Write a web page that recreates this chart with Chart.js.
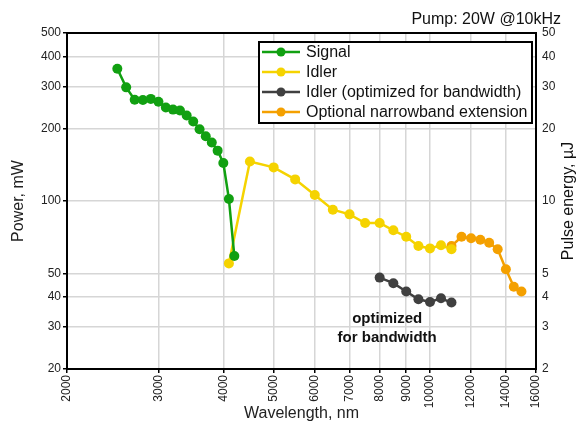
<!DOCTYPE html>
<html lang="en">
<head>
    <meta charset="UTF-8">
    <title>Pump: 20W @10kHz</title>
    <script src="https://cdn.jsdelivr.net/npm/chart.js"></script>
    <style>
        body { margin: 0; background: #fff; }
        #wrap { width: 579px; height: 430px; }
    </style>
</head>
<body>
    <div id="wrap"><canvas id="powerChart" width="579" height="430"></canvas></div>

    <script>
        // Values (wavelength in nm, power in mW)
        const signalNm = [2500, 2600, 2700, 2800, 2900, 3000, 3100, 3200, 3300, 3400, 3500, 3600, 3700, 3800, 3900, 4000, 4100, 4200];
        const signalMw = [355, 297, 264, 263, 266, 259, 245, 240, 238, 227, 214, 199, 186, 175, 162, 144, 102, 59];

        const idlerNm = [4100, 4500, 5000, 5500, 6000, 6500, 7000, 7500, 8000, 8500, 9000, 9500, 10000, 10500, 11000];
        const idlerMw = [55, 146, 138, 123, 106, 92, 88, 81, 81, 75.5, 71, 65, 63.5, 65.4, 63];

        const bandwidthNm = [8000, 8500, 9000, 9500, 10000, 10500, 11000];
        const bandwidthMw = [48, 45.5, 42, 39, 38, 39.4, 37.8];

        const narrowNm = [11000, 11500, 12000, 12500, 13000, 13500, 14000, 14500, 15000];
        const narrowMw = [65, 71, 70, 69, 67, 63, 52, 44, 42];

        const seriesNames = ['Signal', 'Idler', 'Idler (optimized for bandwidth)', 'Optional narrowband extension'];
        const seriesColors = ['#11a011', '#f5d300', '#404040', '#f4a000'];

        const xTicks = [2000, 3000, 4000, 5000, 6000, 7000, 8000, 9000, 10000, 12000, 14000, 16000];
        const powerTicks = [20, 30, 40, 50, 100, 200, 300, 400, 500];
        const energyTicks = [2, 3, 4, 5, 10, 20, 30, 40, 50];

        const toPoints = (xs, ys) => xs.map((x, i) => ({ x: x, y: ys[i] }));

        const font = 'Liberation Sans, Arial, sans-serif';
        Chart.defaults.font.family = font;
        Chart.defaults.color = '#222';

        function makeSet(i, xs, ys) {
            return {
                label: seriesNames[i],
                data: toPoints(xs, ys),
                borderColor: seriesColors[i],
                backgroundColor: seriesColors[i],
                borderWidth: 2.5,
                pointRadius: 5,
                pointHoverRadius: 5,
                pointBorderWidth: 0,
                tension: 0
            };
        }

        // legend box, frame, right axis title and the text notes
        const overlay = {
            id: 'overlay',
            afterDraw(chart) {
                const { ctx, chartArea: a, scales } = chart;
                ctx.save();

                ctx.strokeStyle = '#000';
                ctx.lineWidth = 2;
                ctx.strokeRect(a.left, a.top, a.right - a.left, a.bottom - a.top);

                // legend
                const lx = 259, ly = 42, lw = 273, lh = 81;
                ctx.fillStyle = '#fff';
                ctx.fillRect(lx, ly, lw, lh);
                ctx.strokeRect(lx, ly, lw, lh);
                ctx.font = '16px ' + font;
                ctx.textBaseline = 'middle';
                ctx.textAlign = 'left';
                seriesNames.forEach((name, i) => {
                    const y = ly + 10 + i * 20;
                    ctx.strokeStyle = seriesColors[i];
                    ctx.lineWidth = 2.5;
                    ctx.beginPath();
                    ctx.moveTo(lx + 3, y);
                    ctx.lineTo(lx + 41, y);
                    ctx.stroke();
                    ctx.fillStyle = seriesColors[i];
                    ctx.beginPath();
                    ctx.arc(lx + 22, y, 4.5, 0, Math.PI * 2);
                    ctx.fill();
                    ctx.fillStyle = '#111';
                    ctx.fillText(name, lx + 47, y + 1);
                });

                // pump note
                ctx.font = '16px ' + font;
                ctx.textAlign = 'right';
                ctx.textBaseline = 'alphabetic';
                ctx.fillStyle = '#111';
                ctx.fillText('Pump: 20W @10kHz', 561, 24);

                // annotation under the bandwidth-optimized series
                const ax = scales.x.getPixelForValue(8270);
                ctx.font = 'bold 15px ' + font;
                ctx.textAlign = 'center';
                ctx.textBaseline = 'middle';
                ctx.fillText('optimized', ax, scales.y.getPixelForValue(32.2));
                ctx.fillText('for bandwidth', ax, scales.y.getPixelForValue(26.9));

                // right axis title, reading bottom to top
                ctx.translate(569, (a.top + a.bottom) / 2);
                ctx.rotate(-Math.PI / 2);
                ctx.font = '16px ' + font;
                ctx.fillText('Pulse energy, \u00b5J', 0, 0);

                ctx.restore();
            }
        };

        const grid = { color: '#d6d6d6', lineWidth: 1.5, tickLength: 4, tickColor: '#000' };

        new Chart(document.getElementById('powerChart'), {
            type: 'line',
            data: {
                datasets: [
                    makeSet(0, signalNm, signalMw),
                    makeSet(1, idlerNm, idlerMw),
                    makeSet(2, bandwidthNm, bandwidthMw),
                    makeSet(3, narrowNm, narrowMw)
                ]
            },
            options: {
                responsive: false,
                animation: false,
                layout: { padding: { top: 33, left: 0, right: 0, bottom: 0 } },
                plugins: { legend: { display: false }, tooltip: { enabled: false } },
                scales: {
                    x: {
                        type: 'logarithmic',
                        min: 2000, max: 16000,
                        afterBuildTicks: s => { s.ticks = xTicks.map(v => ({ value: v })); },
                        afterFit: s => { s.height = 61; },
                        ticks: { minRotation: 90, maxRotation: 90, font: { size: 12 }, padding: 2, callback: v => String(v) },
                        grid: grid,
                        border: { color: '#000', width: 2 },
                        title: { display: true, text: 'Wavelength, nm', font: { size: 16 }, padding: { top: 0, bottom: 7 } }
                    },
                    y: {
                        type: 'logarithmic',
                        position: 'left',
                        min: 20, max: 500,
                        afterBuildTicks: s => { s.ticks = powerTicks.map(v => ({ value: v })); },
                        afterFit: s => { s.width = 67; },
                        ticks: { font: { size: 12 }, padding: 2, callback: v => String(v) },
                        grid: grid,
                        border: { color: '#000', width: 2 },
                        title: { display: true, text: 'Power, mW', font: { size: 16 }, padding: { top: 9, bottom: 0 } }
                    },
                    y2: {
                        type: 'logarithmic',
                        position: 'right',
                        min: 2, max: 50,
                        afterBuildTicks: s => { s.ticks = energyTicks.map(v => ({ value: v })); },
                        afterFit: s => { s.width = 43; },
                        ticks: { font: { size: 12 }, padding: 6, callback: v => String(v) },
                        grid: { display: false, drawTicks: false },
                        border: { color: '#000', width: 2 }
                    }
                }
            },
            plugins: [overlay]
        });
    </script>
</body>
</html>
